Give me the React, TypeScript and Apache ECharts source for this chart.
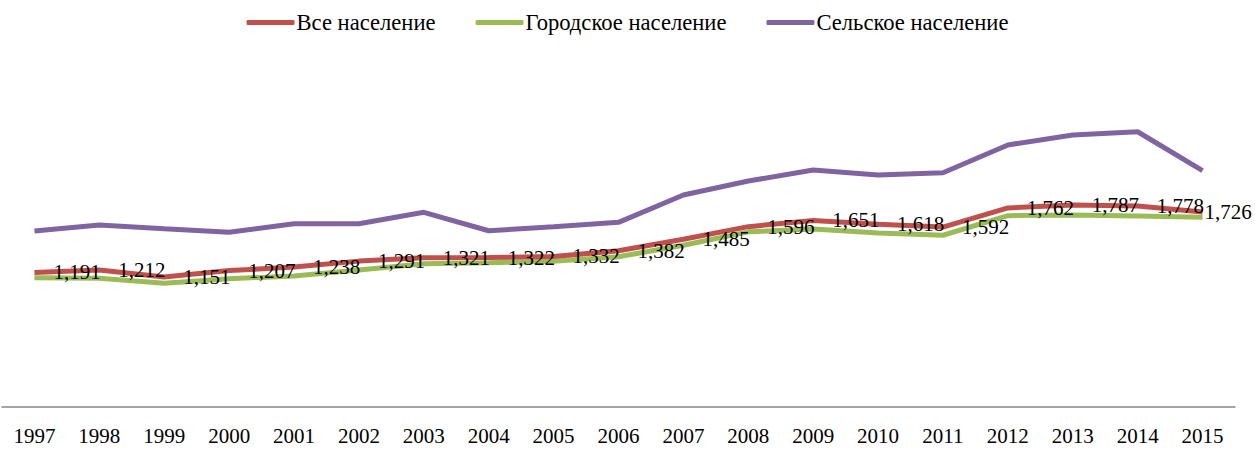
import React, { useEffect, useRef } from "react";
import * as echarts from "echarts";

const years = ["1997","1998","1999","2000","2001","2002","2003","2004","2005","2006","2007","2008","2009","2010","2011","2012","2013","2014","2015"];
const allPop = [1191,1212,1151,1207,1238,1291,1321,1322,1332,1382,1485,1596,1651,1618,1592,1762,1787,1778,1726];
const urbanPop = [1144,1140,1095,1135,1160,1212,1268,1277,1290,1330,1431,1550,1575,1540,1520,1693,1699,1690,1680];
const ruralPop = [1558,1611,1578,1546,1622,1622,1723,1560,1596,1634,1876,2000,2097,2053,2073,2319,2407,2436,2091];
const seriesNames = ["Все население", "Городское население", "Сельское население"];

const FONT = "'Liberation Serif', 'Times New Roman', serif";

export default function App() {
  const ref = useRef<HTMLDivElement>(null);
  useEffect(() => {
    if (!ref.current) return;
    const chart = echarts.init(ref.current, undefined, { renderer: "svg" });
    const fmt = (v: number) => v.toLocaleString("en-US");
    const allData = allPop.map((v, i) =>
      i === allPop.length - 1 ? { value: v, label: { distance: 2 } } : { value: v }
    );
    chart.setOption({
      animation: false,
      legend: {
        top: 6,
        left: "center",
        itemGap: 40,
        itemWidth: 48,
        itemHeight: 5,
        icon: "roundRect",
        textStyle: { fontFamily: FONT, fontSize: 22.6, color: "#000", padding: [0, 0, 0, -3] },
        data: seriesNames,
      },
      grid: { left: 2, right: 20, top: 68, bottom: 42, outerBoundsMode: "none", containLabel: false },
      xAxis: {
        type: "category",
        data: years,
        boundaryGap: true,
        axisLine: { lineStyle: { color: "#868686", width: 1.5 } },
        axisTick: { show: false },
        axisLabel: { fontFamily: FONT, fontSize: 21, color: "#000", margin: 18 },
      },
      yAxis: {
        type: "value",
        min: 0,
        max: 3000,
        show: false,
        splitLine: { show: false },
      },
      series: [
        {
          name: seriesNames[1],
          type: "line",
          data: urbanPop,
          color: "#9BBB59",
          symbol: "circle",
          symbolSize: 0,
          lineStyle: { width: 5, color: "#9BBB59" },
          z: 2,
        },
        {
          name: seriesNames[0],
          type: "line",
          data: allData,
          color: "#C0504D",
          symbol: "circle",
          symbolSize: 0,
          lineStyle: { width: 5, color: "#C0504D" },
          z: 3,
          label: {
            show: true,
            position: "right",
            distance: 19,
            fontFamily: FONT,
            fontSize: 21,
            color: "#000",
            formatter: (p: any) => fmt(p.value),
          },
        },
        {
          name: seriesNames[2],
          type: "line",
          data: ruralPop,
          color: "#8064A2",
          symbol: "circle",
          symbolSize: 0,
          lineStyle: { width: 5, color: "#8064A2" },
          z: 2,
        },
      ],
    });
    return () => chart.dispose();
  }, []);
  return <div ref={ref} style={{ position: "absolute", left: 0, top: 0, width: 1255, height: 449 }} />;
}
